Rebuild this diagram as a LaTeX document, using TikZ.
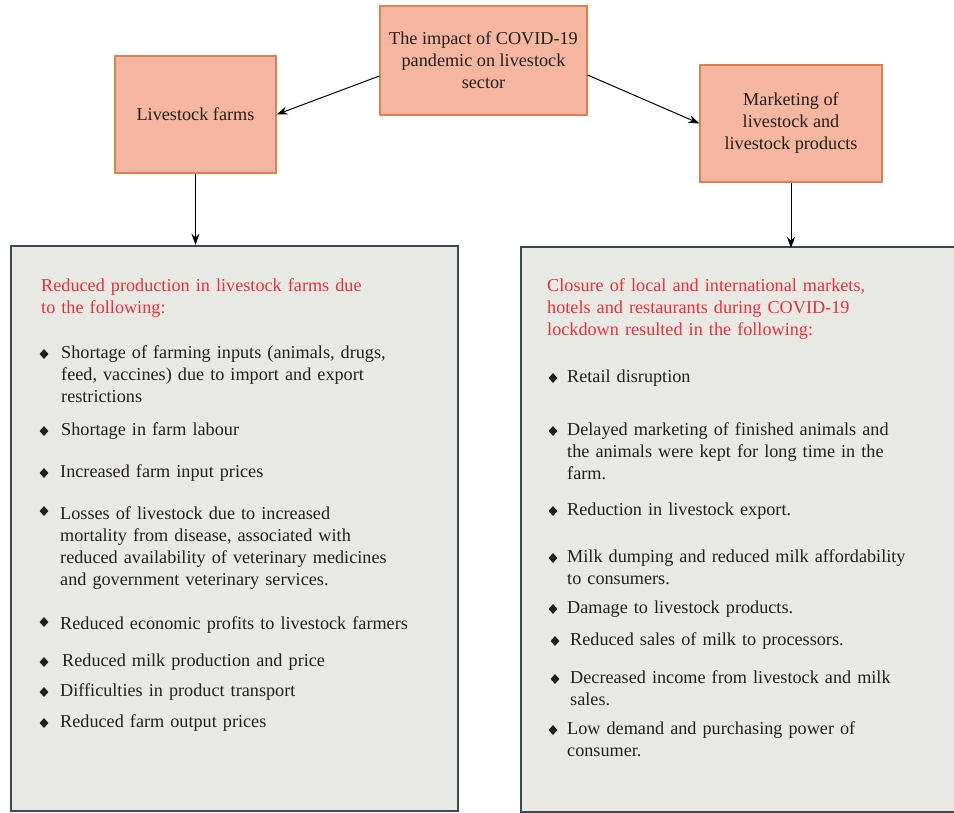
\documentclass[tikz,border=0pt]{standalone}
\usepackage{fontspec}
\setmainfont{Liberation Serif}
\usetikzlibrary{arrows.meta,shapes.geometric}
\definecolor{salmon}{HTML}{F4B6A0}
\definecolor{salmonedge}{HTML}{D9834F}
\definecolor{panel}{HTML}{E8E9E4}
\definecolor{paneledge}{HTML}{3B4B56}
\definecolor{headred}{HTML}{E8303A}
\definecolor{ink}{HTML}{231F20}
\tikzset{
  topic/.style={draw=salmonedge,fill=salmon,line width=1.2pt,align=center,text=ink,
    font=\fontsize{18.2}{22}\selectfont},
  panelbox/.style={draw=paneledge,fill=panel,line width=2.4pt,inner sep=0pt},
  itemtext/.style={anchor=base west,inner sep=0pt,text width=420pt,align=left,text=ink,
    font=\fontsize{18.2}{22}\selectfont},
  headtext/.style={itemtext,text=headred},
  bulletmark/.style={diamond,fill=ink,inner sep=0pt,minimum width=9pt,minimum height=10pt},
}
\begin{document}
\begin{tikzpicture}[x=1pt,y=-1pt,>={Stealth[length=11pt,width=8pt]}]
\useasboundingbox (0,0) rectangle (954,812);
\clip (0,0) rectangle (954,812);
% panels
\node[panelbox,minimum width=447pt,minimum height=565pt] (leftbox) at (234.5,528.5) {};
\node[panelbox,minimum width=460pt,minimum height=565pt,anchor=north west] (rightbox) at (520,246) {};
% top boxes
\node[topic,minimum width=207pt,minimum height=109pt] (impact) at (483.5,60.5)
  {The impact of COVID-19\\pandemic on livestock\\sector};
\node[topic,minimum width=161pt,minimum height=117pt] (farms) at (195.5,114.5) {Livestock farms};
\node[topic,minimum width=182pt,minimum height=117pt] (market) at (791,123.5)
  {Marketing of\\livestock and\\livestock products};
% arrows
\draw[->,line width=1pt] ([yshift=-15.5pt]impact.west) -- (farms.east);
\draw[->,line width=1pt] ([yshift=-14.5pt]impact.east) -- (market.west);
\draw[->,line width=1pt] (farms.south) -- (farms.south |- leftbox.north);
\draw[->,line width=1pt] (market.south) -- ([yshift=-2pt]market.south |- rightbox.north);
% left panel
\node[headtext] (lhead) at (41,291) {Reduced production in livestock farms due\\to the following:};
\node[bulletmark] (lb1) at (44,354) {};
\node[itemtext] (li1) at (61,358) {Shortage of farming inputs (animals, drugs,\\feed, vaccines) due to import and export\\restrictions};
\node[bulletmark] (lb2) at (44,431) {};
\node[itemtext] (li2) at (61,435) {Shortage in farm labour};
\node[bulletmark] (lb3) at (44,473) {};
\node[itemtext] (li3) at (60,477) {Increased farm input prices};
\node[bulletmark] (lb4) at (44,511) {};
\node[itemtext] (li4) at (60,519) {Losses of livestock due to increased\\mortality from disease, associated with\\reduced availability of veterinary medicines\\and government veterinary services.};
\node[bulletmark] (lb5) at (44,622) {};
\node[itemtext] (li5) at (60,629) {Reduced economic profits to livestock farmers};
\node[bulletmark] (lb6) at (44,662) {};
\node[itemtext] (li6) at (62,666) {Reduced milk production and price};
\node[bulletmark] (lb7) at (44,692) {};
\node[itemtext] (li7) at (60,696) {Difficulties in product transport};
\node[bulletmark] (lb8) at (44,723) {};
\node[itemtext] (li8) at (60,727) {Reduced farm output prices};
% right panel
\node[headtext] (rhead) at (547,291) {Closure of local and international markets,\\hotels and restaurants during COVID-19\\lockdown resulted in the following:};
\node[bulletmark] (rb1) at (553,378) {};
\node[itemtext] (ri1) at (567,382) {Retail disruption};
\node[bulletmark] (rb2) at (553,431) {};
\node[itemtext] (ri2) at (567,435) {Delayed marketing of finished animals and\\the animals were kept for long time in the\\farm.};
\node[bulletmark] (rb3) at (553,511) {};
\node[itemtext] (ri3) at (567,515) {Reduction in livestock export.};
\node[bulletmark] (rb4) at (553,558) {};
\node[itemtext] (ri4) at (567,562) {Milk dumping and reduced milk affordability\\to consumers.};
\node[bulletmark] (rb5) at (553,609) {};
\node[itemtext] (ri5) at (567,613) {Damage to livestock products.};
\node[bulletmark] (rb6) at (555,641) {};
\node[itemtext] (ri6) at (570,645) {Reduced sales of milk to processors.};
\node[bulletmark] (rb7) at (555,679) {};
\node[itemtext] (ri7) at (570,683) {Decreased income from livestock and milk\\sales.};
\node[bulletmark] (rb8) at (553,730) {};
\node[itemtext] (ri8) at (567,734) {Low demand and purchasing power of\\consumer.};
\end{tikzpicture}
\end{document}
